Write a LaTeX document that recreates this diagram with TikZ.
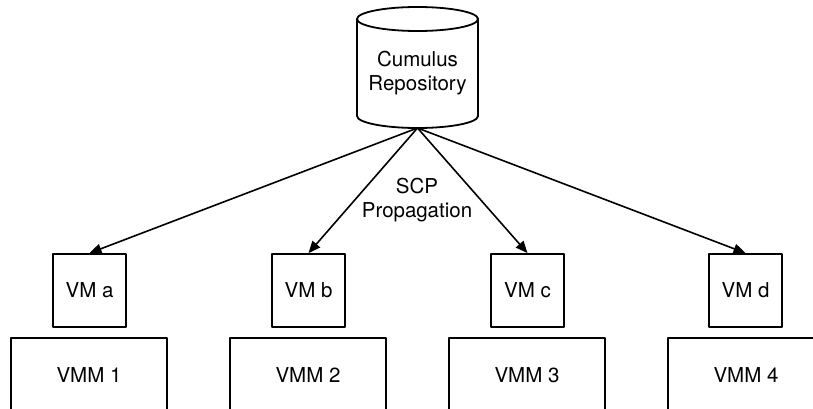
\documentclass[tikz,border=0pt]{standalone}
\usepackage{fontspec}
\setmainfont{TeX Gyre Heros}
\usetikzlibrary{arrows.meta}

\tikzset{
  vmbox/.style={draw, line width=1.8pt, minimum width=73pt, minimum height=73pt, inner sep=0pt},
  vmmbox/.style={draw, line width=1.8pt, minimum width=156pt, minimum height=74pt, inner sep=0pt},
  txt/.style={align=center, font=\fontsize{20.5}{24}\selectfont}
}

\begin{document}
\begin{tikzpicture}[line cap=round,line join=round,>={Triangle[length=12pt,width=10pt]},x=1pt,y=1pt,font=\fontsize{20.5}{24}\selectfont]
\useasboundingbox (0,-409) rectangle (813,0);
\clip (0,-409) rectangle (813,0);

% repository cylinder
\draw [line width=1.8pt] (357,-19)-- (357,-116) arc (180:360:60.5 and 12) -- (478,-19);
\draw [line width=1.8pt] (417.5,-19) ellipse (60.5 and 12);
\coordinate (repobot) at (417.5,-128);
\node [txt] (repo) at (417.5,-73) {Cumulus\\Repository};

% virtual machines
\node [vmbox] (vma) at (89.5,-290.5) {VM a};
\node [vmbox] (vmb) at (308.5,-290.5) {VM b};
\node [vmbox] (vmc) at (527.5,-290.5) {VM c};
\node [vmbox] (vmd) at (745.5,-290.5) {VM d};

% hypervisors
\node [vmmbox] (vmm1) at (89,-375) {VMM 1};
\node [vmmbox] (vmm2) at (308,-375) {VMM 2};
\node [vmmbox] (vmm3) at (527,-375) {VMM 3};
\node [vmmbox] (vmm4) at (746,-375) {VMM 4};

% propagation
\draw [->,line width=1.6pt] (repobot)-- (vma.north);
\draw [->,line width=1.6pt] (repobot)-- (vmb.north);
\draw [->,line width=1.6pt] (repobot)-- (vmc.north);
\draw [->,line width=1.6pt] (repobot)-- (vmd.north);

\node [txt] (scp) at (417,-200) {SCP\\Propagation};
\end{tikzpicture}
\end{document}
